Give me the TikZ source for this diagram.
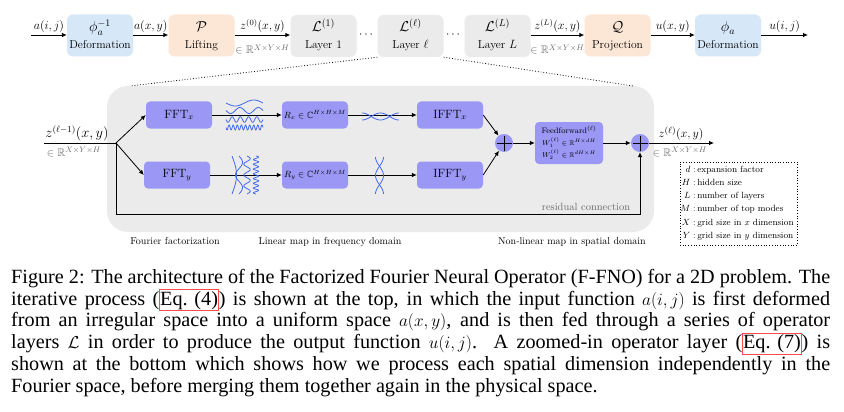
\documentclass[tikz,border=0pt]{standalone}
\usepackage{fontspec}
\usepackage{amsmath,amssymb}
\usetikzlibrary{arrows.meta,calc}
\newfontfamily\capfont{Liberation Serif}
\definecolor{blueC}{HTML}{D6E7F8}
\definecolor{peachC}{HTML}{FCE6D5}
\definecolor{grayC}{HTML}{EBEBEB}
\definecolor{purpC}{HTML}{9A97F5}
\definecolor{waveC}{HTML}{4169EE}
\definecolor{labG}{HTML}{6A6A6A}
\newcommand\fsz[2]{\fontsize{#1}{#2}\selectfont}
\newcommand\capm[1]{{\fsz{16.5}{21.8}$#1$}}
\newcommand\eqbox[1]{{\setlength\fboxsep{0pt}\setlength\fboxrule{0.8pt}\color{red!70}\fbox{\color{black}\rule[-5pt]{0pt}{20pt}#1}}}
\begin{document}
\begin{tikzpicture}[x=1pt,y=-1pt,
  tbox/.style={rounded corners=6pt, minimum width=66pt, minimum height=42pt, inner sep=0pt},
  pbox/.style={fill=purpC, rounded corners=4pt, minimum width=66pt, minimum height=27pt, inner sep=0pt},
  arr/.style={line width=0.8pt, -{Latex[length=5pt,width=4.5pt]}},
  ln/.style={line width=0.8pt},
  wave/.style={waveC, line width=0.8pt},
  alab/.style={font=\fsz{12}{14}, anchor=base, yshift=5.5pt},
  blab/.style={font=\fsz{11}{13}, text=labG, anchor=base, yshift=-19pt},
  sym/.style={font=\fsz{14}{16}, anchor=base},
  lab/.style={font=\fsz{11.5}{13}, anchor=base},
  legsym/.style={font=\fsz{9}{11}, anchor=base east, inner sep=0pt},
  legtxt/.style={font=\fsz{9}{11}, anchor=base west, inner sep=0pt},
  captxt/.style={font=\capfont\fsz{20.2}{21.8}, anchor=base west, inner sep=0pt},
  plus/.style={circle, fill=purpC, minimum size=18pt, inner sep=0pt,
    path picture={\draw[line width=0.9pt] ($(path picture bounding box.center)+(-7.5,0)$) -- ($(path picture bounding box.center)+(7.5,0)$);
                  \draw[line width=0.9pt] ($(path picture bounding box.center)+(0,-7.5)$) -- ($(path picture bounding box.center)+(0,7.5)$);}}
]
\useasboundingbox[fill=white] (0,0) rectangle (844,412);

% ---------- top row ----------
\node[tbox, fill=blueC] (def1) at (100,35.5) {};
\node[sym] (def1s) at (100,32) {$\phi_a^{-1}$};
\node[lab] (def1l) at (100,48.5) {Deformation};
\node[tbox, fill=peachC] (lift) at (201.5,35.5) {};
\node[sym] (lifts) at (201.5,32) {$\mathcal{P}$};
\node[lab] (liftl) at (201.5,48.5) {Lifting};
\node[tbox, fill=grayC] (lay1) at (323.5,36) {};
\node[sym] (lay1s) at (323.5,32) {$\mathcal{L}^{(1)}$};
\node[lab] (lay1l) at (323.5,48.5) {Layer 1};
\node[tbox, fill=grayC] (layl) at (410.5,36) {};
\node[sym] (layls) at (410.5,32) {$\mathcal{L}^{(\ell)}$};
\node[lab] (layll) at (410.5,48.5) {Layer $\ell$};
\node[tbox, fill=grayC] (layL) at (497.5,36) {};
\node[sym] (layLs) at (497.5,32) {$\mathcal{L}^{(L)}$};
\node[lab] (layLl) at (497.5,48.5) {Layer $L$};
\node[tbox, fill=peachC] (proj) at (617.5,35.5) {};
\node[sym] (projs) at (617.5,32) {$\mathcal{Q}$};
\node[lab] (projl) at (617.5,48.5) {Projection};
\node[tbox, fill=blueC] (def2) at (728,35.5) {};
\node[sym] (def2s) at (728,32) {$\phi_a$};
\node[lab] (def2l) at (728,48.5) {Deformation};
\node[font=\fsz{12}{14}] (dots1) at (367,35) {$\cdots$};
\node[font=\fsz{12}{14}] (dots2) at (454,35) {$\cdots$};

\coordinate (ain) at (31,35);
\coordinate (uout) at (808,35);
\draw[arr] (ain) -- (ain -| def1.west) node[alab, midway] {$a(i,j)$};
\draw[arr] (def1.east |- 0,35) -- (lift.west |- 0,35) node[alab, midway] {$a(x,y)$};
\draw[arr] (lift.east |- 0,35) -- (lay1.west |- 0,35) node[alab, midway] {$z^{(0)}(x,y)$}
   node[blab, midway] {$\in\mathbb{R}^{X\times Y\times H}$};
\draw[arr] (layL.east |- 0,35) -- (proj.west |- 0,35) node[alab, midway] {$z^{(L)}(x,y)$}
   node[blab, midway] {$\in\mathbb{R}^{X\times Y\times H}$};
\draw[arr] (proj.east |- 0,35) -- (def2.west |- 0,35) node[alab, midway] {$u(x,y)$};
\draw[arr] (def2.east |- 0,35) -- (uout) node[alab, midway] {$u(i,j)$};

% ---------- zoomed panel ----------
\node[fill=grayC, rounded corners=21pt, minimum width=547pt, minimum height=146pt, inner sep=0pt] (panel) at (380.5,159) {};
\coordinate (pl) at (130,86);
\coordinate (pr) at (633,86);
\draw[dotted, line width=0.8pt] (layl.south west) -- (pl);
\draw[dotted, line width=0.8pt] (layl.south east) -- (pr);

\node[pbox] (fftx) at (179,115) {\fsz{12}{14}FFT$_x$};
\node[pbox] (ffty) at (177,175) {\fsz{12}{14}FFT$_y$};
\node[pbox] (rx) at (315,115) {\fsz{9}{11}$R_x\in\mathbb{C}^{H\times H\times M}$};
\node[pbox] (ry) at (315,175) {\fsz{9}{11}$R_y\in\mathbb{C}^{H\times H\times M}$};
\node[pbox] (ifftx) at (450,115) {\fsz{12}{14}IFFT$_x$};
\node[pbox] (iffty) at (450,175) {\fsz{12}{14}IFFT$_y$};
\node[plus] (plus1) at (504,143) {};
\node[pbox, minimum width=68pt, minimum height=42pt] (ff) at (569,143) {};
\node[font=\fsz{8}{10}, anchor=base] (ff1) at (569,133) {Feedforward$^{(\ell)}$};
\node[font=\fsz{7}{9}, anchor=base] (ff2) at (569,145.5) {$W_1^{(\ell)}\in\mathbb{R}^{H\times dH}$};
\node[font=\fsz{7}{9}, anchor=base] (ff3) at (569,157.5) {$W_2^{(\ell)}\in\mathbb{R}^{dH\times H}$};
\node[plus] (plus2) at (640,143) {};

\coordinate (zin) at (44,143);
\coordinate (br) at (116,143);
\coordinate (rc) at (640,214);
\coordinate (zout) at (714,143);
\draw[ln] (zin) -- (br);
\node[font=\fsz{13.5}{16}, anchor=base] (zinl) at (77,137.5) {$z^{(\ell-1)}(x,y)$};
\node[font=\fsz{11}{13}, text=labG, anchor=base] (zinb) at (74,156) {$\in\mathbb{R}^{X\times Y\times H}$};
\draw[arr] (br) -- (fftx.west);
\draw[arr] (br) -- (ffty.west);
\draw[arr] (br) |- (rc) -- (plus2.south);
\node[font=\fsz{10.5}{12}, text=labG, anchor=base] (resl) at (586,210) {residual connection};

\draw[arr] (fftx) -- (rx);
\draw[arr] (ffty) -- (ry);
\draw[arr] (rx) -- (ifftx);
\draw[arr] (ry) -- (iffty);
\draw[arr] (ifftx.east) -- (plus1);
\draw[arr] (iffty.east) -- (plus1);
\draw[arr] (plus1) -- (ff);
\draw[arr] (ff) -- (plus2);
\draw[arr] (plus2) -- (zout);
\node[font=\fsz{12.5}{15}, anchor=base] (zoutl) at (681,137.5) {$z^{(\ell)}(x,y)$};
\node[font=\fsz{11}{13}, text=labG, anchor=base] (zoutb) at (680,156) {$\in\mathbb{R}^{X\times Y\times H}$};

% waves (horizontal, x direction)
\draw[wave, domain=0:1, samples=60]  plot ({226+37*\x},{103+3*sin(360*\x)});
\draw[wave, domain=0:1, samples=80]  plot ({226+37*\x},{110.5+3*sin(720*\x)});
\draw[wave, domain=0:1, samples=120] plot ({226+37*\x},{119.5+2.8*sin(1620*\x)});
\draw[wave, domain=0:1, samples=200] plot ({226+37*\x},{127.5+2.5*sin(3240*\x)});
\draw[wave, domain=0:1, samples=60]  plot ({362+37*\x},{116.5+3.5*cos(360*\x)});
\draw[wave, domain=0:1, samples=60]  plot ({362+37*\x},{116.5-3.5*cos(360*\x)});
% waves (vertical, y direction)
\draw[wave, domain=0:1, samples=60]  plot ({232+4.5*sin(180*\x)},{156+38*\x});
\draw[wave, domain=0:1, samples=80]  plot ({239+3.5*sin(540*\x)},{156+38*\x});
\draw[wave, domain=0:1, samples=120] plot ({247+3.2*sin(1260*\x)},{156+38*\x});
\draw[wave, domain=0:1, samples=200] plot ({256+2.6*sin(2880*\x)},{156+38*\x});
\draw[wave, domain=0:1, samples=60]  plot ({379.5+4*cos(360*\x)},{157+37*\x});
\draw[wave, domain=0:1, samples=60]  plot ({379.5-4*cos(360*\x)},{157+37*\x});

% bottom labels
\node[font=\fsz{10}{12}, anchor=base] (lab1) at (175,244) {Fourier factorization};
\node[font=\fsz{10}{12}, anchor=base] (lab2) at (330,244) {Linear map in frequency domain};
\node[font=\fsz{10}{12}, anchor=base] (lab3) at (572,244) {Non-linear map in spatial domain};

% legend
\node[draw, dotted, line width=0.7pt, minimum width=117pt, minimum height=83pt, inner sep=0pt] (legend) at (738.5,203.5) {};
\node[legsym] (ls1) at (690.5,172)   {$d$};
\node[legtxt] (lt1) at (691.5,172)   {\,:\,expansion factor};
\node[legsym] (ls2) at (690.5,185.3) {$H$};
\node[legtxt] (lt2) at (691.5,185.3) {\,:\,hidden size};
\node[legsym] (ls3) at (690.5,198.6) {$L$};
\node[legtxt] (lt3) at (691.5,198.6) {\,:\,number of layers};
\node[legsym] (ls4) at (690.5,211.9) {$M$};
\node[legtxt] (lt4) at (691.5,211.9) {\,:\,number of top modes};
\node[legsym] (ls5) at (690.5,225.2) {$X$};
\node[legtxt] (lt5) at (691.5,225.2) {\,:\,grid size in $x$ dimension};
\node[legsym] (ls6) at (690.5,238.5) {$Y$};
\node[legtxt] (lt6) at (691.5,238.5) {\,:\,grid size in $y$ dimension};

% caption
\node[captxt] (c1) at (11,283) {\makebox[819pt][s]{Figure 2: The architecture of the Factorized Fourier Neural Operator (F-FNO) for a 2D problem. The}};
\node[captxt] (c2) at (11,305) {\makebox[819pt][s]{iterative process (\eqbox{Eq. (4)}) is shown at the top, in which the input function \capm{a(i,j)} is first deformed}};
\node[captxt] (c3) at (11,326.8) {\makebox[819pt][s]{from an irregular space into a uniform space \capm{a(x,y)}, and is then fed through a series of operator}};
\node[captxt] (c4) at (11,348.6) {\makebox[819pt][s]{layers \capm{\mathcal{L}} in order to produce the output function \capm{u(i,j)}. A zoomed-in operator layer (\eqbox{Eq. (7)}) is}};
\node[captxt] (c5) at (11,370.4) {\makebox[819pt][s]{shown at the bottom which shows how we process each spatial dimension independently in the}};
\node[captxt] (c6) at (11,392.2) {Fourier space, before merging them together again in the physical space.};
\end{tikzpicture}
\end{document}
